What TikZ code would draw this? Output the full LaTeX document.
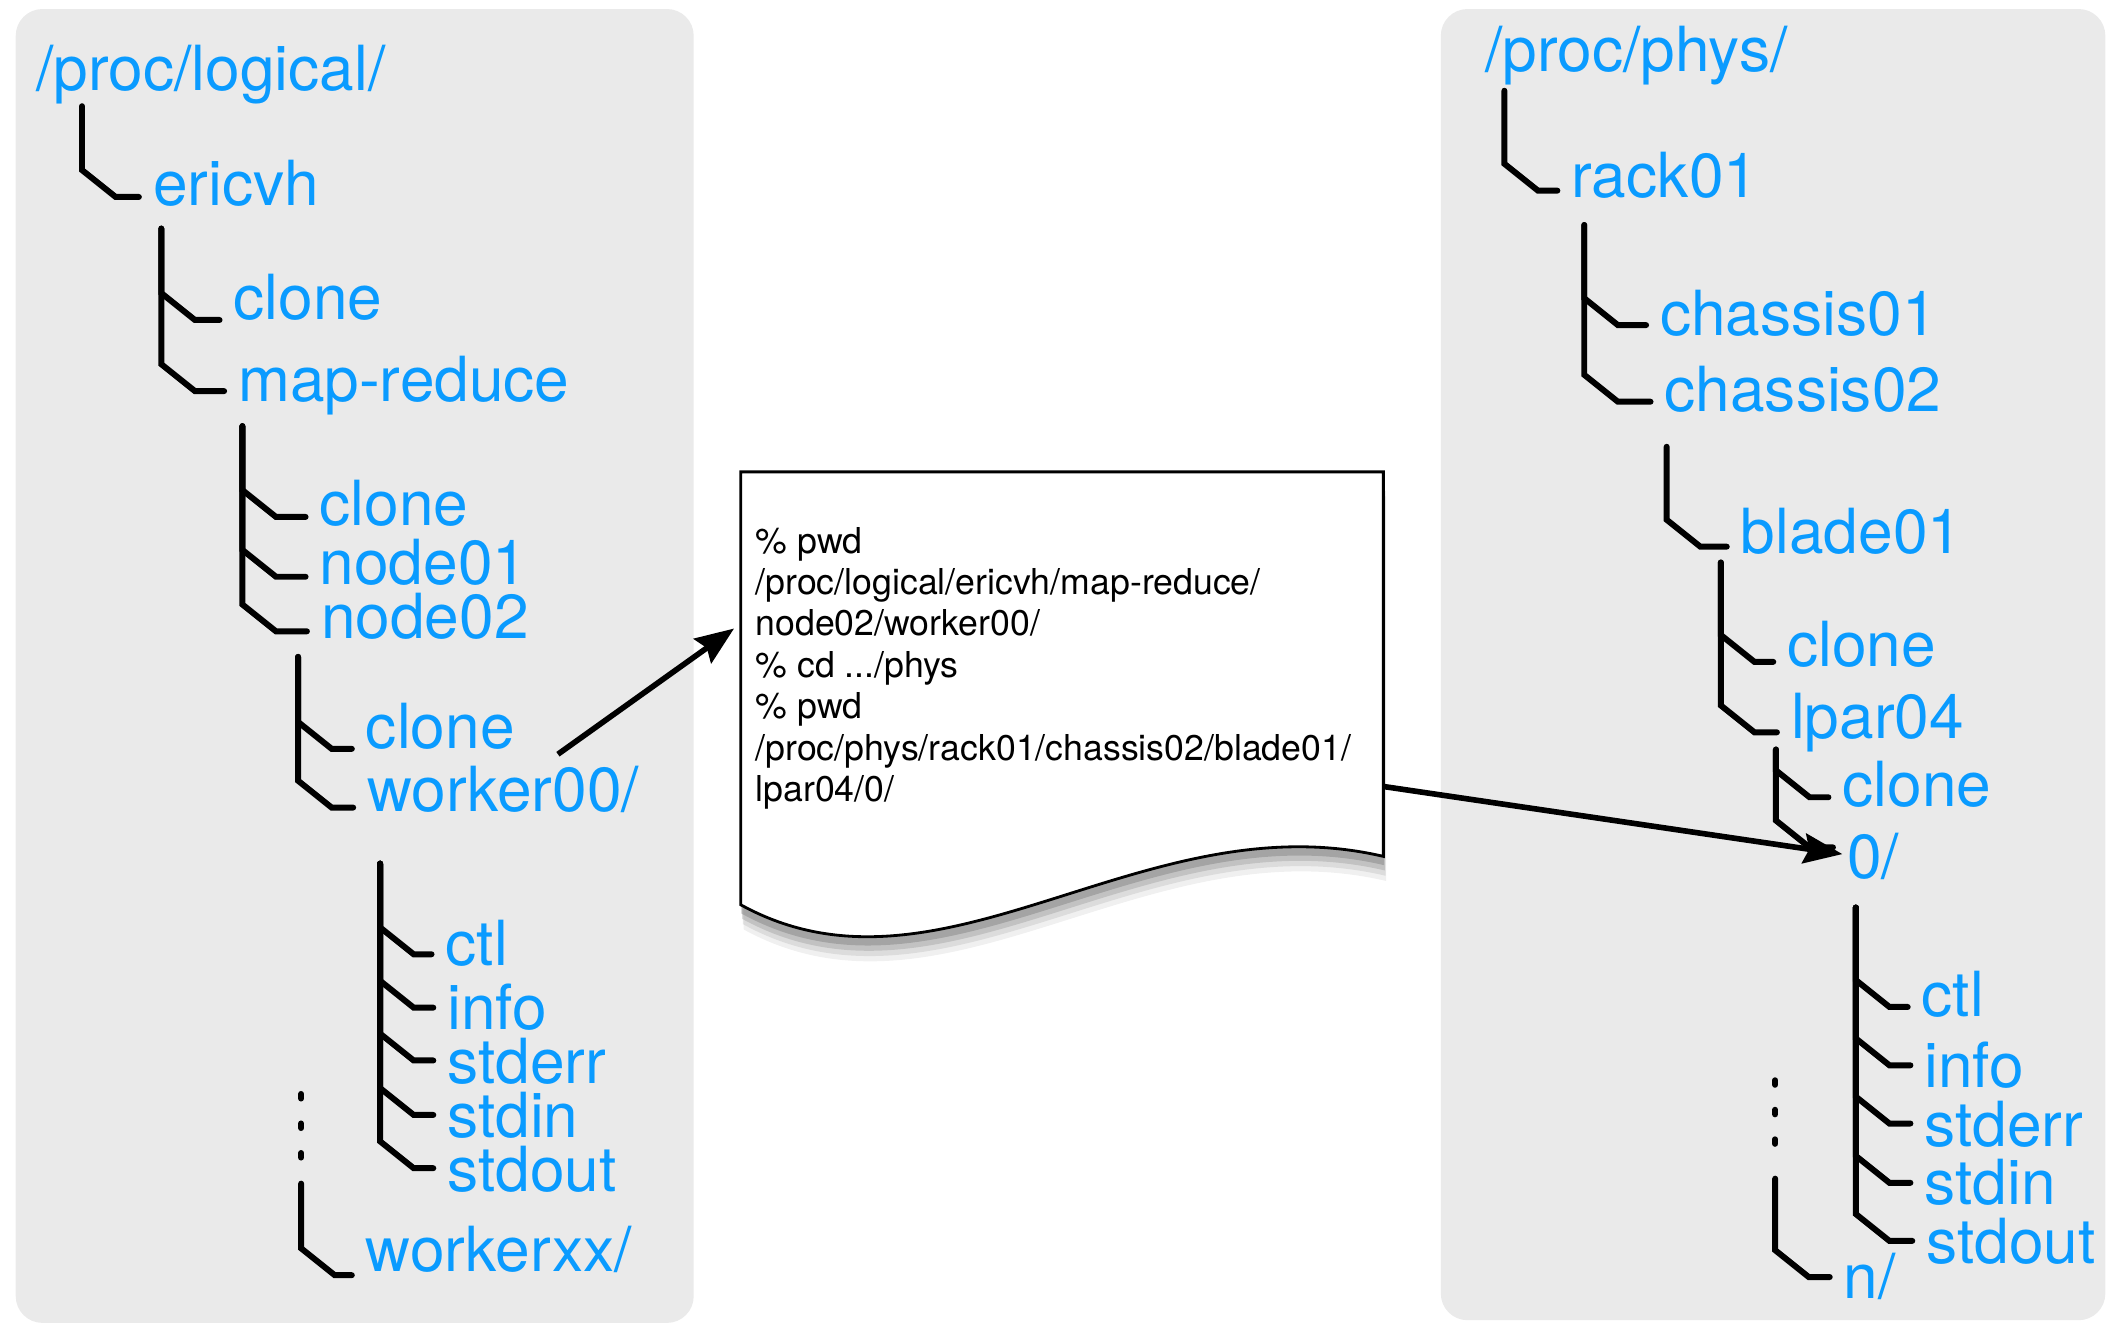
\documentclass[tikz,border=0pt]{standalone}
\usepackage{fontspec}
\setmainfont{TeX Gyre Heros}
\usepackage{tikz}
\usetikzlibrary{calc,arrows.meta,shadows}
\definecolor{fsblue}{HTML}{0A9BFF}
\definecolor{panel}{HTML}{EAEAEA}

\begin{document}
\begin{tikzpicture}[x=0.13444mm,y=-0.13444mm,
  lbl/.style={anchor=base west,inner sep=0pt,text=fsblue,font=\fontsize{17.7}{21}\selectfont},
  twig/.style={line width=1.7pt,line cap=round,
    to path={-- ($(\tikztostart |- \tikztotarget.base west)+(0,#1-20)$) -- ++(25,20) -- ($(\tikztotarget.base west)+(-10,#1)$)}},
  twig/.default=-5,
  more/.style={line width=1.7pt,line cap=round,dash pattern=on 1.3pt off 7.1pt},
  jump/.style={line width=1.6pt,-{Stealth[length=11pt,width=8.5pt,inset=1.5pt]}},
  paper/.style={line width=0.8pt,fill=white,
    drop shadow={shadow xshift=0.8pt,shadow yshift=-7pt,opacity=0.12},
    drop shadow={shadow xshift=0.6pt,shadow yshift=-5.5pt,opacity=0.18},
    drop shadow={shadow xshift=0.4pt,shadow yshift=-4pt,opacity=0.28},
    drop shadow={shadow xshift=0.2pt,shadow yshift=-2.5pt,opacity=0.45}}]
\useasboundingbox (0,0) rectangle (1568,986);
\fill[panel,rounded corners=7.6pt] (11.7,6.7) rectangle (516,984);
\fill[panel,rounded corners=7.6pt] (1071.7,6.7) rectangle (1566,982);

% terminal session
\draw[paper] (551,351) -- (1029,351) -- (1029,637) .. controls (850,595) and (700,755) .. (551,673) -- cycle;
\node[anchor=north west,align=left,inner sep=0pt,font=\fontsize{10.15}{11.78}\selectfont] (cmd) at (561.5,391.5)
  {\% pwd\\/proc/logical/ericvh/map-reduce/\\node02/worker00/\\\% cd .../phys\\\% pwd\\/proc/phys/rack01/chassis02/blade01/\\lpar04/0/};

% logical tree
\node[lbl] (logical) at (26.7,67) {/proc/logical/};
\node[lbl] (ericvh) at (113.3,152.5) {ericvh};
\node[lbl] (eclone) at (173.3,238) {clone};
\node[lbl] (mapred) at (176.7,298.9) {map-reduce};
\node[lbl] (mclone) at (237.3,390.5) {clone};
\node[lbl] (node01) at (237.3,434.5) {node01};
\node[lbl] (node02) at (238.3,474.6) {node02};
\node[lbl] (nclone) at (271.7,557) {clone};
\node[lbl] (worker) at (272.7,603.7) {worker00/};
\node[lbl] (wctl) at (331,717.8) {ctl};
\node[lbl] (winfo) at (332.3,766) {info};
\node[lbl] (wstderr) at (332.3,805.8) {stderr};
\node[lbl] (wstdin) at (332.3,845.8) {stdin};
\node[lbl] (wstdout) at (332.3,886.4) {stdout};
\node[lbl] (workerxx) at (271.7,945.5) {workerxx/};
\coordinate (tlog) at (61,79);
\coordinate (tericvh) at (120,170);
\coordinate (tmapred) at (180.3,317);
\coordinate (tnode02) at (221.7,488.6);
\coordinate (twork) at (282.7,642.4);
\coordinate (tmore) at (224,880.4);
\draw[twig=-6] (tlog) to (ericvh);
\draw[twig=0] (tericvh) to (eclone);
\draw[twig=-8] (tericvh) to (mapred);
\draw[twig=-6] (tmapred) to (mclone);
\draw[twig=-5.5] (tmapred) to (node01);
\draw[twig=-5] (tmapred) to (node02);
\draw[twig=0] (tnode02) to (nclone);
\draw[twig=-3] (tnode02) to (worker);
\draw[twig=-8] (twork) to (wctl);
\draw[twig=-16.5] (twork) to (winfo);
\draw[twig=-17] (twork) to (wstderr);
\draw[twig=-16.5] (twork) to (wstdin);
\draw[twig=-17.5] (twork) to (wstdout);
\draw[more] (224,813.7) -- (224,862);
\draw[twig=3] (tmore) to (workerxx);

% physical tree
\node[lbl] (phys) at (1104.4,53.3) {/proc/phys/};
\node[lbl] (rack01) at (1168.4,146.8) {rack01};
\node[lbl] (chassis01) at (1234.4,249.2) {chassis01};
\node[lbl] (chassis02) at (1237.7,306.2) {chassis02};
\node[lbl] (blade01) at (1294.4,411.6) {blade01};
\node[lbl] (bclone) at (1329,496) {clone};
\node[lbl] (lpar04) at (1331.7,549.2) {lpar04};
\node[lbl] (lclone) at (1370,600) {clone};
\node[lbl] (zero) at (1373.4,653.3) {0/};
\node[lbl] (zctl) at (1429,756.4) {ctl};
\node[lbl] (zinfo) at (1431,809) {info};
\node[lbl] (zstderr) at (1431,852.7) {stderr};
\node[lbl] (zstdin) at (1431,895.8) {stdin};
\node[lbl] (zstdout) at (1432.4,939.5) {stdout};
\node[lbl] (nslash) at (1371,965.9) {n/};
\coordinate (tphys) at (1119,67.5);
\coordinate (track) at (1178.4,167.4);
\coordinate (tchassis) at (1239.7,332.3);
\coordinate (tblade) at (1280,418.4);
\coordinate (tlpar) at (1321,557.5);
\coordinate (tzero) at (1380.4,675.1);
\coordinate (tmoren) at (1320.4,876.7);
\draw[twig=-5] (tphys) to (rack01);
\draw[twig=-7.4] (track) to (chassis01);
\draw[twig=-7.4] (track) to (chassis02);
\draw[twig=-5] (tchassis) to (blade01);
\draw[twig=-3.7] (tblade) to (bclone);
\draw[twig=-4.5] (tblade) to (lpar04);
\draw[twig=-7] (tlpar) to (lclone);
\draw[twig=-23] (tlpar) to (zero);
\draw[twig=-7.4] (tzero) to (zctl);
\draw[twig=-16.6] (tzero) to (zinfo);
\draw[twig=-17] (tzero) to (zstderr);
\draw[twig=-16] (tzero) to (zstdin);
\draw[twig=-16.5] (tzero) to (zstdout);
\draw[more] (1320.4,803.5) -- (1320.4,852);
\draw[twig=-16] (tmoren) to (nslash);

% cd between the trees
\coordinate (wtail) at (415,561);
\coordinate (pin) at (546,467.5);
\coordinate (pout) at (1029,585);
\draw[jump] (wtail) -- (pin);
\draw[jump] (pout) -- ([shift={(-3,-18)}]zero.base west);
\end{tikzpicture}
\end{document}
